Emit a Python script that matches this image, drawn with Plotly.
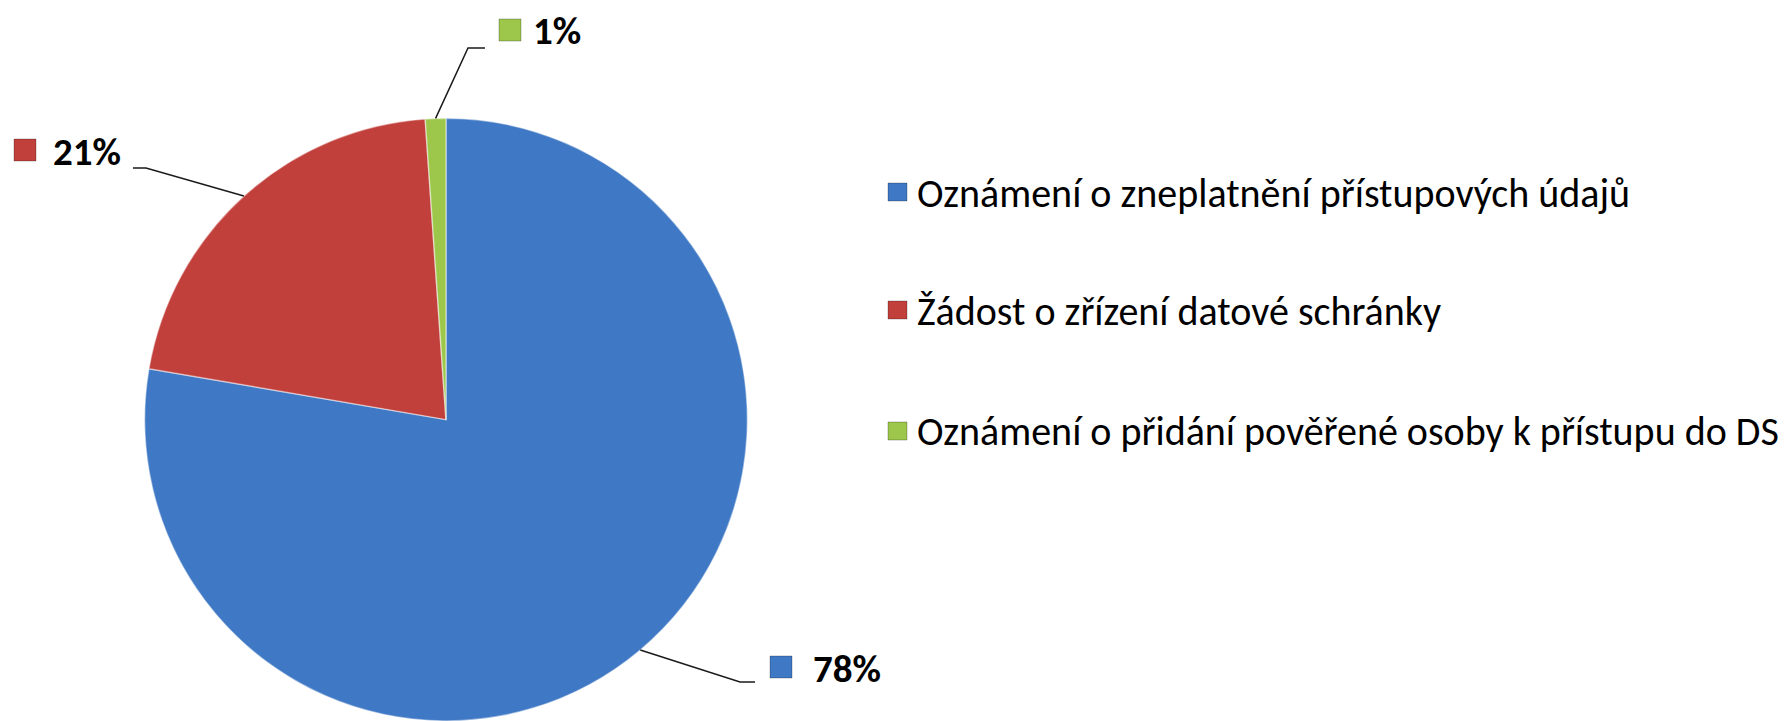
import math
import plotly.graph_objects as go

# ---- data ----
categories = [
    "Oznámení o zneplatnění přístupových údajů",
    "Žádost o zřízení datové schránky",
    "Oznámení o přidání pověřené osoby k přístupu do DS",
]
values = [77.7, 21.2, 1.1]

# ---- style ----
colors = ["#3f78c4", "#c2403c", "#9cc74a"]
W, H = 1789, 721
FONT = "Calibri, Carlito, Lato, sans-serif"
# pie geometry (pixels)
pie_dom_x = [0.0799, 0.4187]
pie_dom_y = [0.0, 0.836]
# leader elbow / end and label marker positions (pixels) per slice
elbows = [(740, 682), (146, 168), (468, 48)]
ends = [(755, 682), (133, 168), (485, 48)]
marker_c = [(781, 667), (25, 150), (510, 30)]
text_x = [811, 51, 531]
legend_y = [192, 310, 431]

fig = go.Figure(go.Pie(
    labels=categories, values=values, sort=False, direction="clockwise",
    rotation=0, textinfo="none", hoverinfo="label+percent",
    marker=dict(colors=colors, line=dict(color="rgba(255,255,255,0.45)", width=1.5)),
    domain=dict(x=pie_dom_x, y=pie_dom_y), showlegend=False,
))

def px(x, y):
    return x / W, 1 - y / H

# pie centre / radius in pixels
cx = (pie_dom_x[0] + pie_dom_x[1]) / 2 * W
h_px = (pie_dom_y[1] - pie_dom_y[0]) * H
w_px = (pie_dom_x[1] - pie_dom_x[0]) * W
r = min(h_px, w_px) / 2
cy = H - (pie_dom_y[0] * H + h_px / 2)

total = sum(values)
shapes, annotations = [], []
start = 0.0
for i, v in enumerate(values):
    frac = v / total
    mid = (start + frac / 2) * 2 * math.pi
    start += frac
    ex = cx + r * math.sin(mid)
    ey = cy - r * math.cos(mid)
    x0, y0 = px(ex, ey)
    x1, y1 = px(*elbows[i])
    x2, y2 = px(*ends[i])
    shapes.append(dict(type="path", xref="paper", yref="paper",
                       path=f"M {x0} {y0} L {x1} {y1} L {x2} {y2}",
                       line=dict(color="#1a1a1a", width=1.5)))
    mx, my = marker_c[i]
    a, b = px(mx - 11, my - 11)
    c, d = px(mx + 11, my + 11)
    shapes.append(dict(type="rect", xref="paper", yref="paper", x0=a, y0=d, x1=c, y1=b,
                       fillcolor=colors[i], line=dict(color="rgba(0,0,0,0.25)", width=1)))
    tx, ty = px(text_x[i], my + 1)
    annotations.append(dict(text=f"<b>{round(frac*100):d}%</b>", x=tx, y=ty,
                            xref="paper", yref="paper", xanchor="left", yanchor="middle",
                            showarrow=False, font=dict(family=FONT, size=39, color="#000")))

# manual legend
for i, name in enumerate(categories):
    ly = legend_y[i]
    a, b = px(888, ly - 9)
    c, d = px(907, ly + 9)
    shapes.append(dict(type="rect", xref="paper", yref="paper", x0=a, y0=d, x1=c, y1=b,
                       fillcolor=colors[i], line=dict(color="rgba(0,0,0,0.25)", width=1)))
    tx, ty = px(915, ly + 1)
    annotations.append(dict(text=name, x=tx, y=ty, xref="paper", yref="paper",
                            xanchor="left", yanchor="middle", showarrow=False,
                            font=dict(family=FONT, size=40, color="#000")))

fig.update_layout(
    width=W, height=H, margin=dict(l=0, r=0, t=0, b=0),
    paper_bgcolor="white", plot_bgcolor="white",
    shapes=shapes, annotations=annotations,
)
fig.write_html("out.html")
